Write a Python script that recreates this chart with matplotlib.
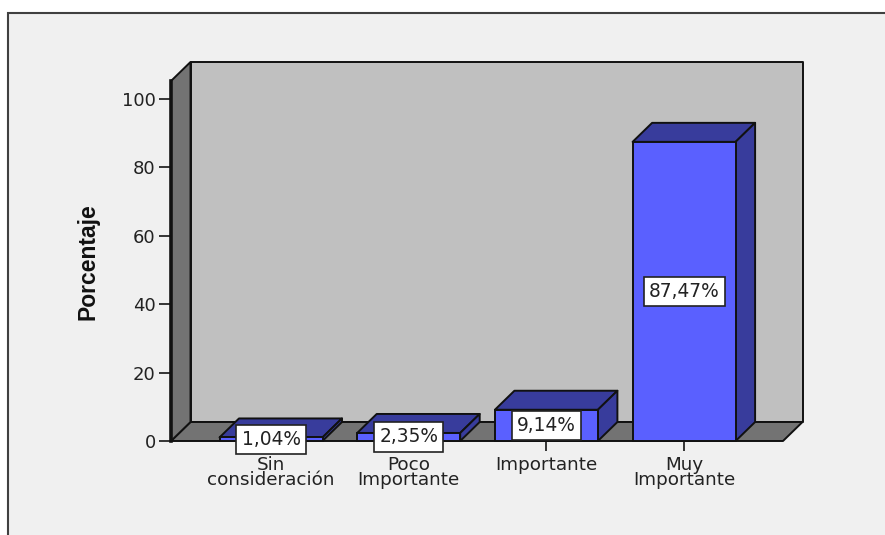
import matplotlib
matplotlib.use("Agg")
import matplotlib.pyplot as plt
from matplotlib.patches import Polygon, Rectangle

# Daten
categories = ["Sin\nconsideración", "Poco\nImportante", "Importante", "Muy\nImportante"]
values = [1.04, 2.35, 9.14, 87.47]
value_labels = ["1,04%", "2,35%", "9,14%", "87,47%"]
y_ticks = [0, 20, 40, 60, 80, 100]

W, H = 885, 535
front = "#5a60ff"
shade = "#383c9c"
wall = "#c0c0c0"
side = "#737373"
panel = "#f0f0f0"
text_col = "#222222"

fig = plt.figure(figsize=(W / 100, H / 100), dpi=100, facecolor="white")

# Hintergrund mit Rahmen nur links und oben
fig.add_artist(Rectangle((8 / W, -0.1), 1, 1.1 - 13 / H, transform=fig.transFigure,
                         facecolor=panel, edgecolor="#404040", linewidth=1.5, zorder=-5))

# Achse = vordere Ebene des 3D-Kastens
left, right, bottom, top = 171, 783, 441, 81
ax = fig.add_axes([left / W, 1 - bottom / H, (right - left) / W, (bottom - top) / H])
ax.patch.set_visible(False)
for s in ax.spines.values():
    s.set_visible(False)

px_x = 137.7
px_y = 3.42
x0 = -(271 - left) / px_x
x1 = (right - 271) / px_x
y1 = (bottom - top) / px_y
ax.set_xlim(x0, x1)
ax.set_ylim(0, y1)

# Tiefe des 3D-Effekts in Datenkoordinaten
dx = 19.5 / px_x
dy = 19 / px_y
edge = dict(edgecolor="#111111", linewidth=1.4, clip_on=False, joinstyle="round")

ax.add_patch(Polygon([(x0 + dx, dy), (x1 + dx, dy), (x1 + dx, y1 + dy), (x0 + dx, y1 + dy)],
                     facecolor=wall, zorder=1, **edge))
ax.add_patch(Polygon([(x0, 0), (x1, 0), (x1 + dx, dy), (x0 + dx, dy)],
                     facecolor=side, zorder=1.1, **edge))
ax.add_patch(Polygon([(x0, 0), (x0 + dx, dy), (x0 + dx, y1 + dy), (x0, y1)],
                     facecolor=side, zorder=1.1, **edge))
ax.plot([x0, x0], [0, y1], color="#111111", linewidth=2.6, zorder=1.2, clip_on=False)

bar_w = 103 / px_x
for i, v in enumerate(values):
    a, b = i - bar_w / 2, i + bar_w / 2
    ax.add_patch(Polygon([(a, v), (b, v), (b + dx, v + dy), (a + dx, v + dy)],
                         facecolor=shade, zorder=2, **edge))
    ax.add_patch(Polygon([(b, 0), (b + dx, dy), (b + dx, v + dy), (b, v)],
                         facecolor=shade, zorder=2, **edge))
ax.bar(range(len(values)), values, width=bar_w, color=front, edgecolor="#111111",
       linewidth=1.4, zorder=3, clip_on=False)

for i, v in enumerate(values):
    ax.text(i, v / 2, value_labels[i], ha="center", va="center", fontsize=13.4,
            family="DejaVu Sans", color=text_col, zorder=5,
            bbox=dict(boxstyle="square,pad=0.28", facecolor="white",
                      edgecolor="#222222", linewidth=1.2))

ax.set_axisbelow(True)
ax.set_yticks(y_ticks)
ax.set_xticks(range(len(categories)))
ax.set_xticklabels(categories, linespacing=0.78)
ax.tick_params(axis="y", length=9, width=1.4, color="#333333", labelsize=13,
               labelcolor=text_col, pad=2)
ax.tick_params(axis="x", length=7, width=1.4, color="#333333", labelsize=13.2,
               labelcolor=text_col, pad=3.5)

fig.text(88 / W, 1 - 262 / H, "Porcentaje", rotation=90, ha="center", va="center",
         family="Liberation Sans", fontweight="bold", fontsize=16.5, color="#111111")

fig.savefig("out.png", dpi=100)
